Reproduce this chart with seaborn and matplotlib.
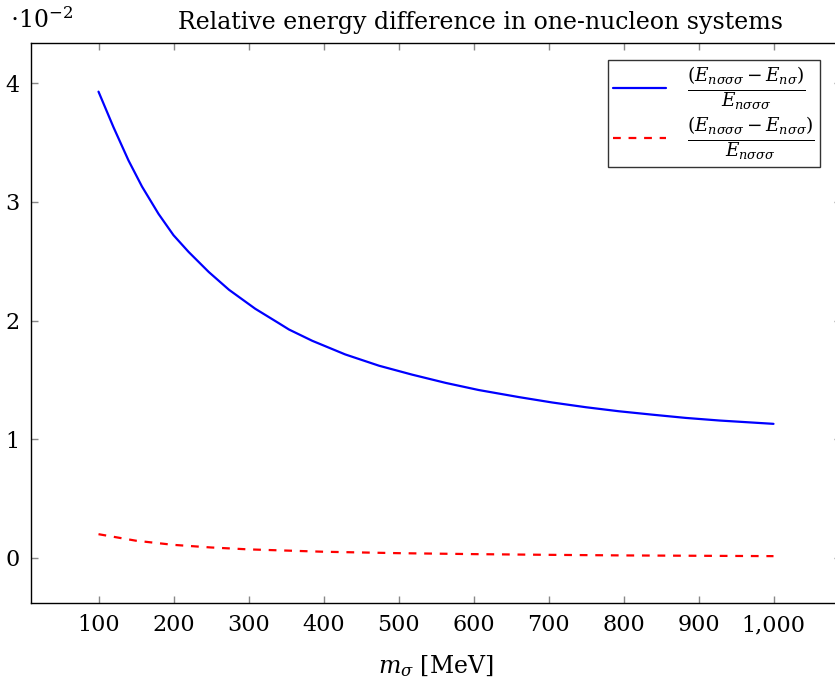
import numpy as np
import pandas as pd
import matplotlib
matplotlib.use("Agg")
import matplotlib.pyplot as plt
import matplotlib.ticker as mticker
import seaborn as sns

# data (values in units of 1e-2)
m_blue = [100, 120, 140, 158, 180, 200, 220, 247, 274, 309, 340, 354, 385, 429, 474,
          518, 563, 607, 661, 705, 750, 794, 839, 883, 928, 1000]
e_blue = [3.93, 3.63, 3.35, 3.13, 2.90, 2.72, 2.58, 2.41, 2.26, 2.10, 1.98, 1.925, 1.83, 1.715, 1.62,
          1.545, 1.475, 1.415, 1.355, 1.31, 1.27, 1.236, 1.207, 1.18, 1.158, 1.13]
m_red = [100, 150, 200, 250, 300, 400, 500, 600, 700, 800, 900, 1000]
e_red = [0.20, 0.145, 0.11, 0.088, 0.072, 0.052, 0.040, 0.032, 0.026, 0.021, 0.018, 0.015]
xticks = [100, 200, 300, 400, 500, 600, 700, 800, 900, 1000]
yticks = [0, 1, 2, 3, 4]
label_blue = r'$\frac{(E_{n\sigma\sigma\sigma}-E_{n\sigma})}{E_{n\sigma\sigma\sigma}}$'
label_red = r'$\frac{(E_{n\sigma\sigma\sigma}-E_{n\sigma\sigma})}{E_{n\sigma\sigma\sigma}}$'

sns.set_theme(style="white")
plt.rcParams['font.family'] = ['DejaVu Serif']
plt.rcParams['mathtext.fontset'] = 'dejavuserif'
for k in ['text.color', 'axes.labelcolor', 'xtick.color', 'ytick.color']:
    plt.rcParams[k] = 'black'

fig = plt.figure(figsize=(8.35, 6.93), dpi=100)
ax = fig.add_axes([31/835, 1 - 603/693, (841 - 31)/835, (603 - 43)/693])

df_b = pd.DataFrame({"m": m_blue, "e": e_blue})
df_r = pd.DataFrame({"m": m_red, "e": e_red})
sns.lineplot(data=df_b, x="m", y="e", ax=ax, color="#0000ff", lw=1.6, label=label_blue)
sns.lineplot(data=df_r, x="m", y="e", ax=ax, color="#ff0000", lw=1.6, label=label_red,
             linestyle=(0, (3.5, 3.5)))

ax.set_xlim(10, 1090)
ax.set_ylim(-0.38, 4.34)
ax.set_xticks(xticks)
ax.set_yticks(yticks)
ax.xaxis.set_major_formatter(mticker.FuncFormatter(lambda v, p: f"{int(v):,}"))
ax.tick_params(axis='both', which='both', direction='in', length=5, width=1,
               color='#888888', labelcolor='black',
               top=True, right=True, bottom=True, left=True, labelsize=16, pad=8)
for s in ax.spines.values():
    s.set_color('black')
    s.set_linewidth(1.0)

ax.set_xlabel(r'$m_{\sigma}$ [MeV]', fontsize=17, labelpad=12)
ax.set_ylabel('')
fig.text(10/835, 1 - 20/693, r'$\cdot 10^{-2}$', fontsize=17, va='center', ha='left')
fig.text(480/835, 1 - 22/693, 'Relative energy difference in one-nucleon systems',
         fontsize=17, va='center', ha='center')

leg = ax.legend(loc='upper right', bbox_to_anchor=(820/835, 1 - 60/693),
                bbox_transform=fig.transFigure, fontsize=19, frameon=True,
                fancybox=False, edgecolor='black', handlelength=2.0,
                borderpad=0.2, labelspacing=0.15, handletextpad=0.8,
                borderaxespad=0)
leg.get_frame().set_linewidth(1.0)

fig.savefig("out.png", dpi=100)
